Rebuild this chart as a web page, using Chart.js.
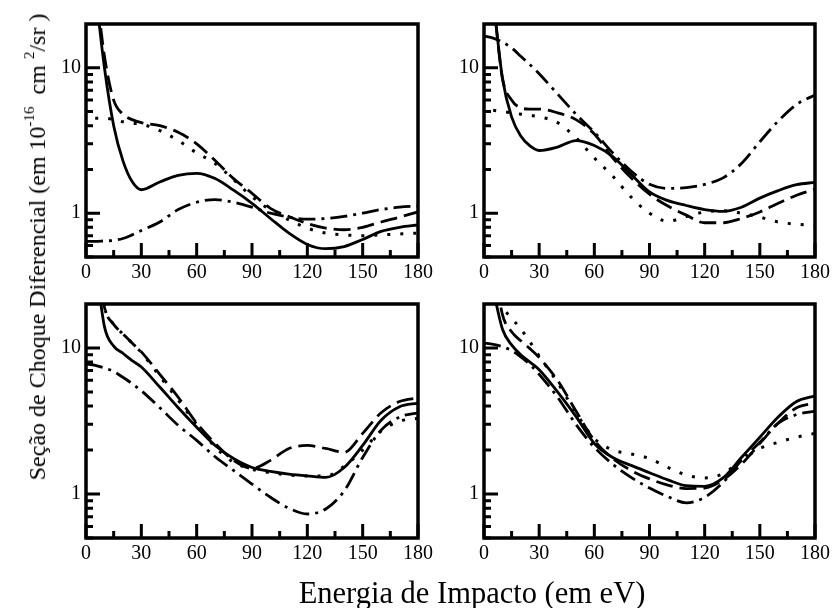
<!DOCTYPE html>
<html><head><meta charset="utf-8">
<script src="https://cdn.jsdelivr.net/npm/chart.js@4.4.1/dist/chart.umd.min.js"></script>
<style>
html,body{margin:0;padding:0;background:#fff;}
#wrap{position:relative;width:834px;height:608px;overflow:hidden;background:#fff;}
canvas{position:absolute;left:0;top:0;}
.t{position:absolute;font-family:'Liberation Serif','Times New Roman',serif;color:#000;white-space:nowrap;}
#xt{font-size:30.5px;line-height:30px;left:472px;top:578px;transform:translateX(-50%);}
#yt{font-size:24px;line-height:24px;left:37px;top:247px;transform:translate(-50%,-50%) rotate(-90deg);}
#yt sup{font-size:15px;line-height:0;vertical-align:0;position:relative;top:-11px;}
</style></head><body>
<div id="wrap">
<canvas id="c0" width="834" height="608"></canvas>
<canvas id="c1" width="834" height="608"></canvas>
<canvas id="c2" width="834" height="608"></canvas>
<canvas id="c3" width="834" height="608"></canvas>
<div class="t" id="xt">Energia de Impacto (em eV)</div>
<div class="t" id="yt">Seção de Choque Diferencial (em 10<sup>-16</sup>&nbsp; cm&nbsp;<sup>2</sup>/sr )</div>
</div>
<script>
// ---- data ----
const xValues = [0,5,10,15,20,25,30,40,50,60,70,80,90,100,110,120,130,140,150,160,170,180];

const tlSolid   = [null,35,10,4.0,2.3,1.65,1.45,1.64,1.82,1.88,1.73,1.44,1.17,0.92,0.73,0.61,0.57,0.59,0.66,0.75,0.8,0.83];
const tlDashed  = [null,40,12,6.0,4.8,4.4,4.2,4.0,3.6,3.0,2.3,1.73,1.37,1.08,0.95,0.85,0.79,0.77,0.8,0.87,0.94,1.02];
const tlDashDot = [0.64,0.64,0.645,0.65,0.67,0.71,0.76,0.87,1.06,1.19,1.24,1.19,1.1,1.0,0.94,0.91,0.92,0.95,1.0,1.06,1.1,1.12];
const tlDotted  = [null,4.5,4.5,4.4,4.25,4.15,4.1,3.7,3.16,2.6,2.2,1.7,1.3,1.05,0.9,0.79,0.73,0.71,0.7,0.71,0.72,0.73];

const trSolid   = [null,30,8.5,4.6,3.4,2.9,2.7,2.85,3.16,2.92,2.45,1.85,1.4,1.22,1.13,1.06,1.03,1.1,1.27,1.43,1.57,1.63];
const trDashed  = [null,30,8.5,6.0,5.3,5.2,5.2,4.9,4.4,3.5,2.4,1.75,1.35,1.12,0.97,0.86,0.86,0.92,1.02,1.17,1.33,1.46];
const trDashDot = [16.5,16,15,13.7,12,10.5,9.1,6.6,4.8,3.6,2.6,1.95,1.58,1.48,1.5,1.58,1.75,2.2,3.1,4.3,5.6,6.5];
const trDotted  = [null,5.1,5.0,4.9,4.8,4.7,4.6,4.2,3.3,2.4,1.8,1.29,1.0,0.88,0.95,1.02,1.04,1.0,0.94,0.87,0.84,0.82];

const blSolid   = [null,40,14,10.3,9.2,8.2,7.4,5.4,3.9,2.87,2.15,1.75,1.52,1.43,1.37,1.33,1.3,1.52,2.15,3.2,3.96,4.2];
const blDashed  = [null,50,19,14.5,12.5,10.8,9.4,6.6,4.6,3.06,2.22,1.7,1.5,1.7,2.05,2.15,2.05,1.93,2.6,3.6,4.3,4.55];
const blDashDot = [7.8,7.6,7.3,6.9,6.3,5.7,5.1,3.9,2.95,2.33,1.8,1.45,1.17,0.95,0.8,0.73,0.79,1.05,1.78,2.74,3.37,3.6];
const blDotted  = [null,50,19,14.5,12.5,10.8,9.3,6.4,4.4,3.0,2.1,1.65,1.48,1.4,1.35,1.33,1.33,1.55,2.0,2.7,3.15,3.3];

const brSolid   = [null,25,13.5,10.5,9.0,8.0,7.1,5.0,3.4,2.22,1.78,1.57,1.4,1.25,1.14,1.13,1.29,1.78,2.45,3.37,4.3,4.7];
const brDashed  = [null,40,17,12.9,11.2,9.9,8.6,6.0,3.7,2.33,1.75,1.45,1.27,1.15,1.09,1.1,1.25,1.6,2.22,3.06,3.9,4.2];
const brDashDot = [10.8,10.6,10.2,9.6,8.7,7.7,6.6,4.6,3.0,2.09,1.6,1.3,1.1,0.96,0.87,0.95,1.2,1.7,2.26,3.06,3.5,3.7];
const brDotted  = [null,25,19,16,13.5,11,8.8,5.8,3.6,2.4,2.0,1.88,1.75,1.52,1.35,1.29,1.38,1.7,2.05,2.26,2.45,2.6];

const xMajorTicks = [0,30,60,90,120,150,180];
const xMinorTicks = [15,45,75,105,135,165];
const yMajorTicks = [1,10];
const yMinorTicks = [0.5,0.6,0.7,0.8,0.9,2,3,4,5,6,7,8,9];

// ---- styles ----
const lineStyles = [
  {dash: [], width: 2.8},
  {dash: [17,7], width: 2.8},
  {dash: [17,6,3,6], width: 2.8},
  {dash: [3,10], width: 3}
];

const panels = [
  {id:'c0', area:[86,24,418,257],  series:[tlSolid,tlDashed,tlDashDot,tlDotted]},
  {id:'c1', area:[484,24,817,257], series:[trSolid,trDashed,trDashDot,trDotted]},
  {id:'c2', area:[86,304,418,538], series:[blSolid,blDashed,blDashDot,blDotted]},
  {id:'c3', area:[484,304,817,538],series:[brSolid,brDashed,brDashDot,brDotted]}
];

Chart.defaults.font.family = "'Liberation Serif','Times New Roman',serif";
Chart.defaults.color = '#000';

const framePlugin = {
  id: 'frame',
  afterDatasetsDraw(chart) {
    const ctx = chart.ctx, a = chart.chartArea, x = chart.scales.x, y = chart.scales.y;
    ctx.save();
    ctx.setLineDash([]);
    ctx.strokeStyle = '#000';
    ctx.lineCap = 'butt';
    ctx.lineWidth = 3;
    ctx.beginPath();
    xMajorTicks.forEach(v => { const p = x.getPixelForValue(v); ctx.moveTo(p, a.bottom); ctx.lineTo(p, a.bottom - 14); });
    xMinorTicks.forEach(v => { const p = x.getPixelForValue(v); ctx.moveTo(p, a.bottom); ctx.lineTo(p, a.bottom - 7); });
    yMajorTicks.forEach(v => { const p = y.getPixelForValue(v); ctx.moveTo(a.left, p); ctx.lineTo(a.left + 14, p); });
    yMinorTicks.forEach(v => { const p = y.getPixelForValue(v); ctx.moveTo(a.left, p); ctx.lineTo(a.left + 7, p); });
    ctx.stroke();
    ctx.lineWidth = 3.5;
    ctx.strokeRect(a.left, a.top, a.right - a.left, a.bottom - a.top);
    ctx.restore();
  }
};

const YW = 60, XH = 40, W = 834, H = 608;
panels.forEach(pn => {
  const [L, T, R, B] = pn.area;
  new Chart(document.getElementById(pn.id), {
    type: 'line',
    data: {
      datasets: pn.series.map((arr, i) => ({
        data: xValues.map((xv, j) => ({x: xv, y: arr[j]})).filter(p => p.y !== null),
        borderColor: '#000',
        borderWidth: lineStyles[i].width,
        borderDash: lineStyles[i].dash,
        borderCapStyle: 'butt',
        pointRadius: 0,
        fill: false,
        cubicInterpolationMode: 'monotone'
      }))
    },
    options: {
      responsive: false, animation: false, devicePixelRatio: 1, events: [],
      layout: {padding: {left: L - YW, top: T, right: W - R, bottom: H - B - XH}},
      plugins: {legend: {display: false}, tooltip: {enabled: false}},
      scales: {
        x: {
          type: 'linear', min: 0, max: 180,
          afterBuildTicks: s => { s.ticks = xMajorTicks.map(v => ({value: v})); },
          afterFit: s => { s.height = XH; },
          grid: {display: false, drawTicks: false},
          border: {display: false},
          ticks: {font: {size: 20}, color: '#000', padding: 4, maxRotation: 0, autoSkip: false}
        },
        y: {
          type: 'logarithmic', min: 0.5, max: 20,
          afterBuildTicks: s => { s.ticks = yMajorTicks.map(v => ({value: v})); },
          afterFit: s => { s.width = YW; },
          grid: {display: false, drawTicks: false},
          border: {display: false},
          ticks: {font: {size: 20}, color: '#000', padding: 5, callback: v => String(v)}
        }
      }
    },
    plugins: [framePlugin]
  });
});
</script>
</body></html>
